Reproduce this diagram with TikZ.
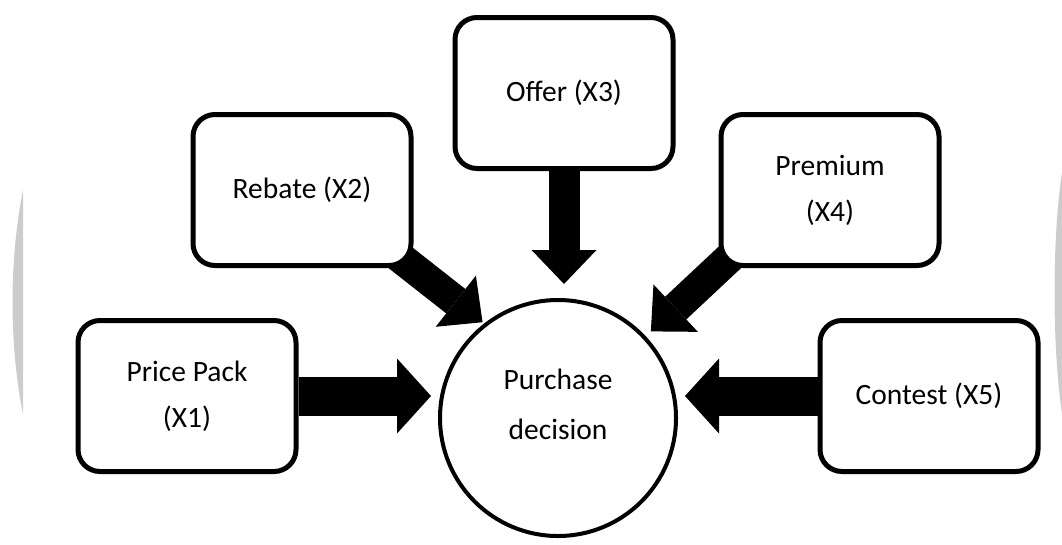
\documentclass[tikz,border=0pt]{standalone}
\usepackage{fontspec}
\setmainfont{Carlito}
\usetikzlibrary{arrows.meta,backgrounds,calc}
\begin{document}
\begin{tikzpicture}[x=1pt,y=-1pt,
  box/.style={draw, line width=5pt, rounded corners=22pt, fill=white,
    minimum width=218pt, minimum height=151pt, align=center,
    font=\fontsize{29.5}{46}\selectfont},
  decision/.style={draw, circle, line width=4pt, fill=white,
    minimum size=236pt, align=center, text depth=28pt,
    font=\fontsize{29.5}{50}\selectfont},
  widearrow/.style={line width=39pt,
    -{Triangle[width=75pt,length=34pt,line width'=0pt]}},
  slimarrow/.style={line width=31pt,
    -{Triangle[width=65pt,length=34pt,line width'=0pt]}},
  shade/.style={fill=black!20, draw=none}]
\useasboundingbox (0,0) rectangle (1062,544);
% page shadows
\fill[shade] (23,190) .. controls (9,260) and (9,345) .. (23,414) -- cycle;
\fill[shade] (1062,172) .. controls (1052,240) and (1052,345) .. (1062,414) -- cycle;
% nodes
\node[box] (x1) at (187,396) {Price Pack\\(X1)};
\node[box] (x2) at (302,190) {Rebate (X2)};
\node[box] (x3) at (564,93) {Offer (X3)};
\node[box] (x4) at (830,190) {Premium\\(X4)};
\node[box] (x5) at (929,396) {Contest (X5)};
\node[decision] (pd) at (558,418) {Purchase\\decision};
% connectors
\begin{scope}[on background layer]
\draw[widearrow, shorten >=7pt] (x1.east) -- (x1.east -| pd.west);
\draw[widearrow, shorten >=7pt] (x5.west) -- (x5.west -| pd.east);
\draw[slimarrow, shorten >=14pt] (x3.south) -- (x3.south |- pd.north);
\draw[slimarrow, shorten >=2pt] ($(x2.south east)!-30pt!(pd.128)$) -- (pd.128);
\draw[slimarrow, shorten >=7pt] ($(x4.south west)!-30pt!(pd.43)$) -- (pd.43);
\end{scope}
\end{tikzpicture}
\end{document}
